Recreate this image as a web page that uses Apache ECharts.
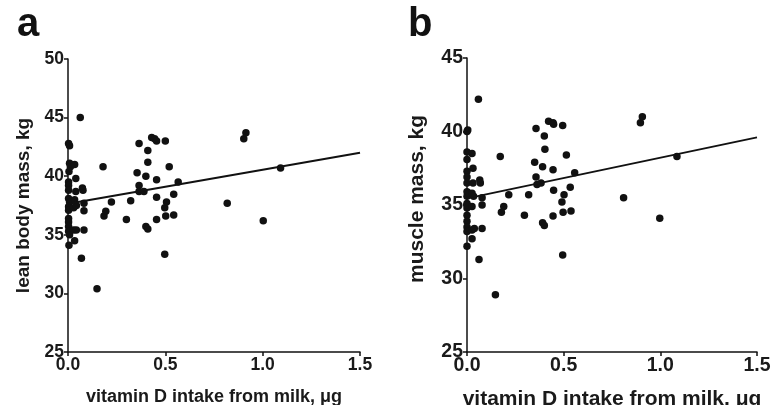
<!DOCTYPE html>
<html><head><meta charset="utf-8">
<script src="https://cdn.jsdelivr.net/npm/echarts@6/dist/echarts.min.js"></script>
<style>html,body{margin:0;padding:0;background:#fff}#c{width:771px;height:405px}</style>
</head><body><div id="c"></div>
<script>
// Panel a: lean body mass vs vitamin D intake from milk
var xA = [0.003,0.008,0.008,0.012,0.005,0.003,0.003,0.003,0.003,0.008,0.003,0.003,0.003,0.003,0.003,0.003,0.008,0.005,
  0.034,0.04,0.04,0.034,0.029,0.043,0.029,0.043,0.034,0.063,0.074,0.077,0.082,0.082,0.082,0.069,
  0.149,0.18,0.185,0.194,0.223,0.30,0.322,0.355,0.365,0.365,0.365,0.39,0.40,0.40,0.41,0.41,0.41,
  0.43,0.445,0.455,0.455,0.455,0.455,0.50,0.497,0.506,0.502,0.497,0.52,0.543,0.543,0.566,0.818,0.903,0.914,1.003,1.092];
var yA = [42.8,42.6,41.1,40.8,40.4,39.5,39.2,38.8,38.1,37.8,37.4,37.1,36.4,36.1,35.7,35.3,35.0,34.1,
  41.0,39.8,38.7,38.0,37.3,37.5,35.4,35.4,34.5,45.0,39.0,38.8,37.7,37.05,35.4,33.0,
  30.4,40.8,36.6,37.0,37.8,36.3,37.9,40.3,42.8,39.2,38.7,38.7,40.0,35.7,35.5,42.2,41.2,
  43.3,43.2,43.0,39.7,38.2,36.3,43.0,37.3,37.8,36.6,33.35,40.8,38.45,36.7,39.5,37.7,43.2,43.7,36.2,40.7];
var fitA = [[0, 37.65], [1.5, 42.0]];

// Panel b: muscle mass vs vitamin D intake from milk
var xB = [0.0,0.004,0.0,0.0,0.0,0.0,0.0,0.0,0.0,0.0,0.0,0.0,0.0,0.0,0.0,0.0,0.0,0.009,
  0.026,0.031,0.031,0.026,0.034,0.026,0.026,0.026,0.038,0.059,0.066,0.069,0.078,0.078,0.078,0.062,
  0.147,0.172,0.178,0.190,0.216,0.297,0.319,0.350,0.357,0.357,0.362,0.383,0.391,0.391,0.400,0.400,0.403,
  0.422,0.445,0.448,0.445,0.448,0.445,0.495,0.495,0.491,0.497,0.502,0.514,0.534,0.538,0.557,0.810,0.897,0.907,0.997,1.086];
var yB = [40.0,40.1,38.6,38.1,37.3,36.9,36.5,35.9,35.6,35.1,34.8,34.3,33.9,33.5,33.2,32.2,35.0,35.8,
  38.5,37.5,36.5,35.8,35.6,34.9,33.3,32.7,33.4,42.2,36.7,36.5,35.5,35.0,33.4,31.3,
  28.9,38.3,34.5,34.9,35.7,34.3,35.7,37.9,40.2,36.9,36.4,36.5,37.6,33.8,39.7,33.6,38.8,
  40.7,40.6,40.5,37.4,36.0,34.25,40.4,31.6,35.2,34.5,35.7,38.4,36.2,34.6,37.2,35.5,40.6,41.0,34.1,38.3];
var fitB = [[0, 35.45], [1.5, 39.6]];

var xName = 'vitamin D intake from milk, \u03bcg';
var yNameA = 'lean body mass, kg';
var yNameB = 'muscle mass, kg';

function zip(xs, ys) { return xs.map(function (x, i) { return [x, ys[i]]; }); }

var FONT = '"Liberation Sans", Arial, sans-serif';
var TXT = '#1a1a1a';
var axisLine = { show: true, onZero: false, lineStyle: { color: '#111', width: 1.5 } };
var axisTick = { show: true, length: 4, lineStyle: { color: '#111', width: 1.5 } };
function ts(sz, pad) { var o = { color: TXT, fontFamily: FONT, fontWeight: 'bold', fontSize: sz }; if (pad) o.padding = pad; return o; }

function xAxis(gi, lsz, nsz, gap) {
  return { type: 'value', gridIndex: gi, min: 0, max: 1.5, interval: 0.5,
    axisLine: axisLine, axisTick: axisTick, splitLine: { show: false },
    axisLabel: Object.assign({ margin: 4, formatter: function (v) { return v.toFixed(1); } }, ts(lsz)),
    name: xName, nameLocation: 'middle', nameGap: gap, nameTextStyle: ts(nsz) };
}
function yAxis(gi, min, max, name, gap, lsz, nsz, pad) {
  return { type: 'value', gridIndex: gi, min: min, max: max, interval: 5,
    axisLine: axisLine, axisTick: axisTick, splitLine: { show: false },
    axisLabel: Object.assign({ margin: 4 }, ts(lsz)),
    name: name, nameLocation: 'middle', nameGap: gap, nameTextStyle: ts(nsz, pad) };
}

var chart = echarts.init(document.getElementById('c'), null, { renderer: 'canvas' });
chart.setOption({
  animation: false,
  backgroundColor: '#fff',
  title: [
    { text: 'a', left: 12, top: 0, textStyle: { fontFamily: FONT, fontWeight: 'bold', fontSize: 40, color: '#111' } },
    { text: 'b', left: 403, top: 0, textStyle: { fontFamily: FONT, fontWeight: 'bold', fontSize: 40, color: '#111' } }
  ],
  grid: [
    { left: 68, top: 59, width: 292, height: 293, containLabel: false, outerBoundsMode: 'none' },
    { left: 467, top: 58, width: 290, height: 294, containLabel: false, outerBoundsMode: 'none' }
  ],
  xAxis: [xAxis(0, 17.5, 18, 36), xAxis(1, 19.5, 21, 37)],
  yAxis: [yAxis(0, 25, 50, yNameA, 35, 17.5, 19), yAxis(1, 25, 45, yNameB, 39, 19.5, 21, [0, 0, 0, 12])],
  series: [
    { type: 'scatter', xAxisIndex: 0, yAxisIndex: 0, data: zip(xA, yA), symbolSize: 7.5, itemStyle: { color: '#111', opacity: 1 } },
    { type: 'line', xAxisIndex: 0, yAxisIndex: 0, data: fitA, symbol: 'none', lineStyle: { color: '#111', width: 2 }, z: 3 },
    { type: 'scatter', xAxisIndex: 1, yAxisIndex: 1, data: zip(xB, yB), symbolSize: 7.5, itemStyle: { color: '#111', opacity: 1 } },
    { type: 'line', xAxisIndex: 1, yAxisIndex: 1, data: fitB, symbol: 'none', lineStyle: { color: '#111', width: 2 }, z: 3 }
  ]
});
</script></body></html>
